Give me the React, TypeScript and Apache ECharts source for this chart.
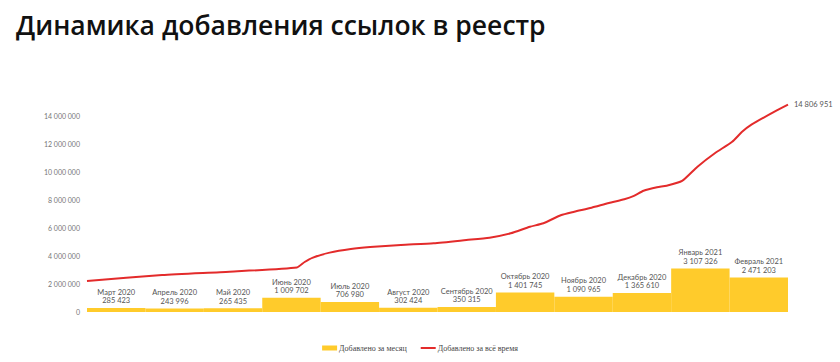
import React, { useEffect, useRef } from "react";
import * as echarts from "echarts";

const titleText = "Динамика добавления ссылок в реестр";
const months = [
  "Март 2020", "Апрель 2020", "Май 2020", "Июнь 2020", "Июль 2020", "Август 2020",
  "Сентябрь 2020", "Октябрь 2020", "Ноябрь 2020", "Декабрь 2020", "Январь 2021", "Февраль 2021",
];
const monthlyAdded = [285423, 243996, 265435, 1009702, 706980, 302424, 350315, 1401745, 1090965, 1365610, 3107326, 2471203];

const totalDates = [
  "2020-03-01", "2020-04-09", "2020-05-14", "2020-06-18", "2020-06-22", "2020-06-26",
  "2020-07-05", "2020-07-16", "2020-07-26", "2020-08-11", "2020-08-28", "2020-09-14",
  "2020-09-26", "2020-10-07", "2020-10-17", "2020-10-24", "2020-11-02", "2020-11-09",
  "2020-11-18", "2020-11-27", "2020-12-05", "2020-12-10", "2020-12-15", "2020-12-22",
  "2020-12-27", "2021-01-04", "2021-01-12", "2021-01-21", "2021-01-30", "2021-02-04",
  "2021-02-09", "2021-02-21", "2021-02-28",
];
const totalValues = [
  2210000, 2640000, 2880000, 3180000, 3570000, 3870000,
  4240000, 4500000, 4640000, 4790000, 4910000, 5140000,
  5310000, 5620000, 6090000, 6340000, 6910000, 7160000,
  7450000, 7790000, 8050000, 8290000, 8660000, 8910000,
  9020000, 9360000, 10380000, 11340000, 12160000, 12850000,
  13380000, 14310000, 14806951,
];

const seriesNames = ["Добавлено за месяц", "Добавлено за всё время"];
const yMin = 0;
const yMax = 14000000;
const yInterval = 2000000;

const fmt = (n: number) => String(Math.round(n)).replace(/\B(?=(\d{3})+(?!\d))/g, " ");

export default function App() {
  const ref = useRef<HTMLDivElement>(null);
  useEffect(() => {
    if (!ref.current) return;
    const chart = echarts.init(ref.current, undefined, { renderer: "svg" });
    const labelFont = { fontFamily: "Lato", fontSize: 7.5, color: "#555" };
    chart.setOption({
      animation: false,
      backgroundColor: "#fff",
      title: {
        text: titleText,
        left: 11,
        top: 6,
        textStyle: { fontFamily: "Open Sans", fontSize: 26.5, fontWeight: 600, color: "#111" },
      },
      legend: {
        data: [
          { name: seriesNames[0], icon: "rect" },
          { name: seriesNames[1], icon: "path://M0,0 L15,0 L15,2 L0,2 Z" },
        ],
        left: "center",
        top: 339,
        itemWidth: 15,
        itemHeight: 5,
        itemGap: 14,
        textStyle: { fontFamily: "Liberation Serif", fontSize: 8, color: "#444", padding: [0, 0, 0, -3] },
      },
      grid: { left: 87, right: 52, top: 116, bottom: 50, containLabel: false },
      xAxis: [
        { type: "category", data: months, show: false, boundaryGap: true },
        { type: "time", min: "2020-03-01", max: "2021-02-28", show: false },
      ],
      yAxis: {
        type: "value",
        min: yMin,
        max: yMax,
        interval: yInterval,
        splitLine: { show: false },
        axisLine: { show: false },
        axisTick: { show: false },
        axisLabel: { fontFamily: "Lato", fontSize: 7, color: "#777", margin: 7, formatter: (v: number) => fmt(v) },
      },
      series: [
        {
          name: seriesNames[0],
          type: "bar",
          xAxisIndex: 0,
          data: monthlyAdded,
          barCategoryGap: "0%",
          itemStyle: { color: "#FFCB2B" },
          label: {
            show: true,
            position: "top",
            distance: 3,
            ...labelFont,
            lineHeight: 8.5,
            formatter: (p: any) => `${months[p.dataIndex]}\n${fmt(p.value)}`,
          },
        },
        {
          name: seriesNames[1],
          type: "line",
          xAxisIndex: 1,
          data: totalDates.map((d, i) => [d, totalValues[i]]),
          showSymbol: false,
          symbol: "none",
          smooth: 0.2,
          clip: false,
          lineStyle: { color: "#E32B2B", width: 2 },
          itemStyle: { color: "#E32B2B" },
          endLabel: {
            show: true,
            distance: 6,
            ...labelFont,
            formatter: (p: any) => fmt(p.value[1]),
          },
        },
      ],
    });
    return () => chart.dispose();
  }, []);
  return <div ref={ref} style={{ position: "fixed", left: 0, top: 0, width: 840, height: 362 }} />;
}
